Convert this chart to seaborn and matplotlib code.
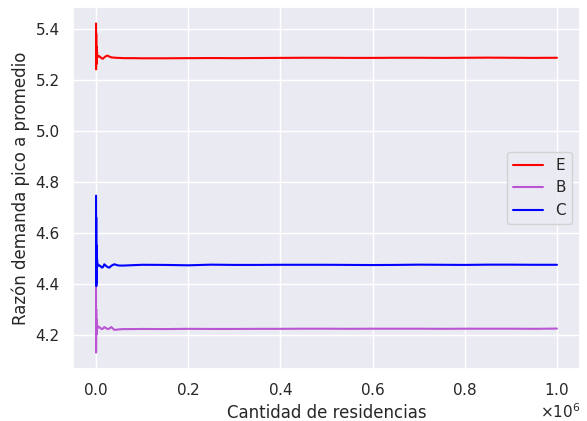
import matplotlib
matplotlib.use("Agg")
import matplotlib.pyplot as plt
import seaborn as sns

# cantidad de residencias (muestras)
residencias = [1, 100, 300, 600, 1000, 1500, 2000, 3000, 5000, 7000, 10000, 12500,
               15000, 18000, 21500, 25000, 29000, 33000, 39500, 47000, 50000, 60000,
               80000, 100000, 150000, 200000, 250000, 300000, 350000, 400000, 450000,
               500000, 550000, 600000, 650000, 700000, 750000, 800000, 850000, 900000,
               950000, 1000000]

ratio_e = [5.42, 5.24, 5.38, 5.26, 5.33, 5.27, 5.31, 5.29, 5.29, 5.292, 5.287, 5.283,
           5.282, 5.287, 5.292, 5.294, 5.29, 5.287, 5.286, 5.285, 5.285, 5.284,
           5.284, 5.2835, 5.2835, 5.284, 5.2845, 5.284, 5.2845, 5.285, 5.2855,
           5.2855, 5.285, 5.285, 5.2855, 5.2855, 5.285, 5.2855, 5.286, 5.2855,
           5.285, 5.2855]

ratio_b = [4.385, 4.13, 4.30, 4.20, 4.26, 4.21, 4.24, 4.225, 4.232, 4.23, 4.225, 4.222,
           4.224, 4.23, 4.226, 4.222, 4.224, 4.23, 4.219, 4.220, 4.221, 4.222,
           4.222, 4.2225, 4.222, 4.223, 4.2225, 4.2225, 4.223, 4.223, 4.2235,
           4.2235, 4.223, 4.2235, 4.2235, 4.2235, 4.223, 4.2235, 4.2235, 4.2235,
           4.223, 4.224]

ratio_c = [4.745, 4.40, 4.66, 4.39, 4.55, 4.45, 4.50, 4.48, 4.47, 4.472, 4.468, 4.463,
           4.465, 4.476, 4.47, 4.465, 4.463, 4.47, 4.476, 4.472, 4.471, 4.471,
           4.4725, 4.474, 4.4735, 4.472, 4.4745, 4.4735, 4.4735, 4.474, 4.474,
           4.474, 4.4735, 4.473, 4.4735, 4.4745, 4.474, 4.4735, 4.4745, 4.4745,
           4.474, 4.474]

sns.set_theme(style="darkgrid")

fig, ax = plt.subplots(figsize=(5.87, 4.21), dpi=100)
sns.lineplot(x=residencias, y=ratio_e, color="red", label="E", ax=ax)
sns.lineplot(x=residencias, y=ratio_b, color="mediumorchid", label="B", ax=ax)
sns.lineplot(x=residencias, y=ratio_c, color="blue", label="C", ax=ax)

ax.set_xlabel("Cantidad de residencias")
ax.set_ylabel("Razón demanda pico a promedio")
ax.ticklabel_format(axis="x", style="sci", scilimits=(0, 0), useMathText=True)
ax.legend(loc="center right")

fig.subplots_adjust(left=73 / 587, right=580 / 587, top=1 - 7 / 421, bottom=1 - 369 / 421)
plt.savefig("out.png", dpi=100)
plt.close(fig)
